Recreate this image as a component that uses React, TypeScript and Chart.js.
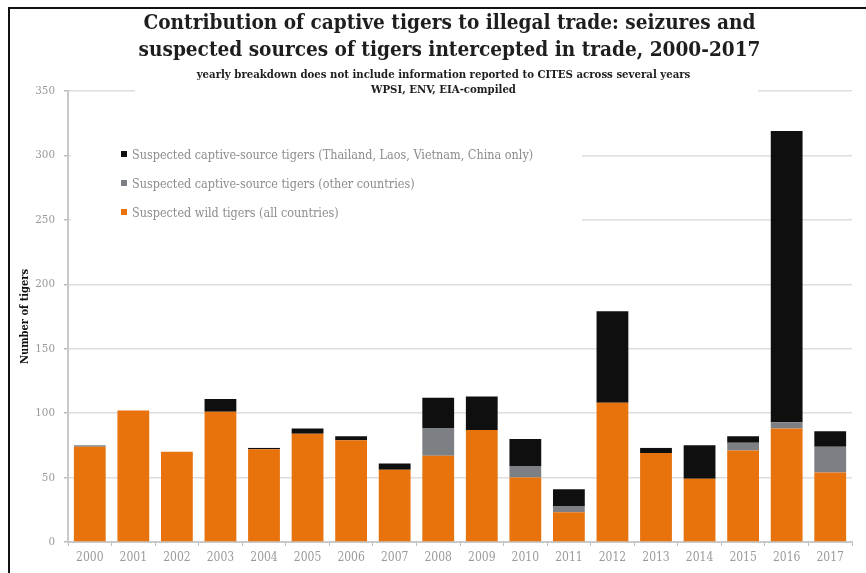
import React, { useEffect, useRef } from "react";
import { Chart, registerables } from "chart.js";

Chart.register(...registerables);

const years = ["2000", "2001", "2002", "2003", "2004", "2005", "2006", "2007", "2008", "2009", "2010", "2011", "2012", "2013", "2014", "2015", "2016", "2017"];
const wildTigers = [74, 102, 70, 101, 72, 84, 79, 56, 67, 87, 50, 23, 108, 69, 49, 71, 88, 54];
const captiveOtherCountries = [1, 0, 0, 0, 0, 0, 0, 0, 21, 0, 9, 5, 0, 0, 0, 6, 5, 20];
const captiveTLVC = [0, 0, 0, 10, 1, 4, 3, 5, 24, 26, 21, 13, 71, 4, 26, 5, 226, 12];

const labelTLVC = "Suspected captive-source tigers (Thailand, Laos, Vietnam, China only)";
const labelOther = "Suspected captive-source tigers (other countries)";
const labelWild = "Suspected wild tigers (all countries)";

const titleLines = [
  "Contribution of captive tigers to illegal trade: seizures and",
  "suspected sources of tigers intercepted in trade, 2000-2017",
];
const subtitleLines = [
  "yearly breakdown does not include information reported to CITES across several years",
  "WPSI, ENV, EIA-compiled",
];
const yAxisTitle = "Number of tigers";

const COLOR_WILD = "#E8720C";
const COLOR_OTHER = "#7c7f84";
const COLOR_TLVC = "#0f0f0f";

const FONT = "'DejaVu Serif Condensed', 'DejaVu Serif', serif";

const legendItems = [
  { label: labelTLVC, color: COLOR_TLVC },
  { label: labelOther, color: COLOR_OTHER },
  { label: labelWild, color: COLOR_WILD },
];

export default function App() {
  const canvasRef = useRef<HTMLCanvasElement | null>(null);

  useEffect(() => {
    if (!canvasRef.current) return;
    const chart = new Chart(canvasRef.current, {
      type: "bar",
      data: {
        labels: years,
        datasets: [
          { label: labelWild, data: wildTigers, backgroundColor: COLOR_WILD, borderWidth: 0 },
          { label: labelOther, data: captiveOtherCountries, backgroundColor: COLOR_OTHER, borderWidth: 0 },
          { label: labelTLVC, data: captiveTLVC, backgroundColor: COLOR_TLVC, borderWidth: 0 },
        ],
      },
      options: {
        animation: false,
        responsive: true,
        maintainAspectRatio: false,
        layout: { padding: { left: 10, top: 91, right: 14, bottom: 0 } },
        datasets: { bar: { categoryPercentage: 1, barPercentage: 0.73 } },
        plugins: {
          legend: { display: false },
          title: { display: false },
          tooltip: { enabled: false },
        },
        scales: {
          x: {
            stacked: true,
            grid: {
              display: true,
              drawOnChartArea: false,
              drawTicks: true,
              tickLength: 4,
              color: "#bdbdbd",
              lineWidth: 1,
            },
            border: { display: true, color: "#c9c9c9", width: 2 },
            ticks: { color: "#9a9a9a", font: { family: FONT, size: 12 }, padding: 5 },
            afterFit: (s: any) => {
              s.height = 31;
            },
          },
          y: {
            stacked: true,
            min: 0,
            max: 350,
            ticks: { stepSize: 50, color: "#9a9a9a", font: { family: FONT, size: 11.5 }, padding: 9 },
            grid: { color: "#dedede", lineWidth: 1.5, tickLength: 4, tickColor: "#bdbdbd" },
            border: { display: true, color: "#c9c9c9", width: 2 },
            title: {
              display: true,
              text: yAxisTitle,
              color: "#111",
              font: { family: FONT, size: 11, weight: "bold" },
              padding: { top: 9, bottom: 0 },
            },
            afterFit: (s: any) => {
              s.width = 58;
            },
          },
        },
      },
    });
    return () => chart.destroy();
  }, []);

  return (
    <>
      <div style={{ position: "absolute", left: 0, top: 0, width: 866, height: 573 }}>
        <canvas ref={canvasRef} />
      </div>
      <div
        style={{
          position: "absolute",
          left: 8,
          top: 7,
          width: 858,
          height: 566,
          boxSizing: "border-box",
          borderTop: "2px solid #111",
          borderLeft: "2px solid #111",
          pointerEvents: "none",
        }}
      />
      <div
        style={{
          position: "absolute",
          left: 135,
          top: 9,
          width: 623,
          height: 89,
          background: "#fff",
          textAlign: "center",
          fontFamily: FONT,
          fontStretch: "condensed",
          color: "#1e1e1e",
          whiteSpace: "nowrap",
        }}
      >
        {titleLines.map((t) => (
          <div key={t} style={{ fontSize: 20.6, fontWeight: "bold", lineHeight: "27px", position: "relative", left: 3 }}>
            {t}
          </div>
        ))}
        <div style={{ height: 4 }} />
        {subtitleLines.map((t) => (
          <div key={t} style={{ fontSize: 11.3, fontWeight: "bold", lineHeight: "15px", position: "relative", left: -3 }}>
            {t}
          </div>
        ))}
      </div>
      <div
        style={{
          position: "absolute",
          left: 71,
          top: 125,
          width: 511,
          height: 122,
          background: "#fff",
          fontFamily: FONT,
          fontStretch: "condensed",
        }}
      >
        {legendItems.map((it, i) => (
          <div
            key={it.label}
            style={{
              position: "absolute",
              left: 50,
              top: 29 - 8 + i * 29,
              height: 16,
              display: "flex",
              alignItems: "center",
              whiteSpace: "nowrap",
            }}
          >
            <span style={{ display: "inline-block", width: 6, height: 6, background: it.color, marginRight: 5 }} />
            <span style={{ fontSize: 12.5, color: "#8c8c8c" }}>{it.label}</span>
          </div>
        ))}
      </div>
    </>
  );
}
